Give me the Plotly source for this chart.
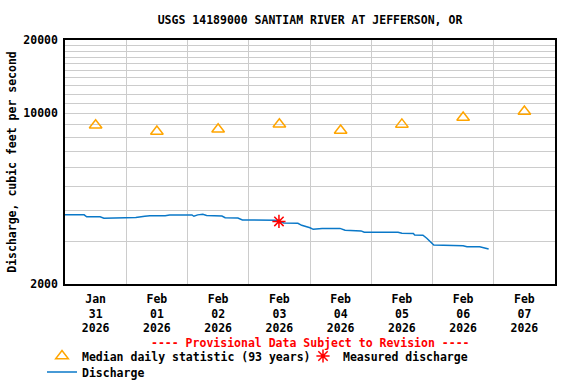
import plotly.graph_objects as go

# ---- data ----
median_dates = ['2026-01-31 12:00', '2026-02-01 12:00', '2026-02-02 12:00', '2026-02-03 12:00',
                '2026-02-04 12:00', '2026-02-05 12:00', '2026-02-06 12:00', '2026-02-07 12:00']
median_values = [8940, 8430, 8620, 9030, 8510, 9020, 9620, 10190]

measured_dates = ['2026-02-03 11:50']
measured_values = [3610]

discharge_times = [
    '2026-01-31 00:00', '2026-01-31 07:30', '2026-01-31 08:30', '2026-01-31 13:45', '2026-01-31 15:15',
    '2026-02-01 02:15', '2026-02-01 03:45', '2026-02-01 07:15', '2026-02-01 09:15', '2026-02-01 15:15',
    '2026-02-01 17:00', '2026-02-02 01:45', '2026-02-02 02:30', '2026-02-02 04:00', '2026-02-02 06:00',
    '2026-02-02 07:30', '2026-02-02 13:30', '2026-02-02 14:45', '2026-02-02 19:45', '2026-02-02 21:30',
    '2026-02-03 04:30', '2026-02-03 10:15', '2026-02-03 11:45', '2026-02-03 13:45', '2026-02-03 19:15',
    '2026-02-03 20:45', '2026-02-04 00:00', '2026-02-04 01:15', '2026-02-04 04:45', '2026-02-04 11:45',
    '2026-02-04 13:45', '2026-02-04 20:00', '2026-02-04 21:15', '2026-02-05 10:30', '2026-02-05 12:00',
    '2026-02-05 16:30', '2026-02-05 17:00', '2026-02-05 20:15', '2026-02-05 21:45', '2026-02-05 23:30',
    '2026-02-06 00:30', '2026-02-06 12:00', '2026-02-06 13:30', '2026-02-06 18:30', '2026-02-06 20:15',
    '2026-02-06 22:00']
discharge_values = [
    3840, 3840, 3770, 3770, 3720,
    3720, 3745, 3790, 3810, 3810,
    3836, 3836, 3790, 3840, 3860,
    3820, 3800, 3740, 3730, 3660,
    3650, 3650, 3615, 3560, 3545,
    3480, 3400, 3350, 3380, 3380,
    3320, 3300, 3258, 3258, 3230,
    3220, 3176, 3170, 3080, 2960,
    2890, 2870, 2845, 2840, 2800,
    2780]

y_tick_values = [2000, 3000, 4000, 5000, 6000, 7000, 8000, 9000, 10000,
                 11000, 12000, 13000, 14000, 15000, 16000, 17000, 18000, 19000, 20000]
y_tick_labels = ['2000', '', '', '', '', '', '', '', '10000',
                 '', '', '', '', '', '', '', '', '', '20000']

title_text = 'USGS 14189000 SANTIAM RIVER AT JEFFERSON, OR'
y_title = 'Discharge, cubic feet per second'
provisional = '---- Provisional Data Subject to Revision ----'

FONT = 'DejaVu Sans Mono'
FS = 11.5
PLOT_TOP, PLOT_BOTTOM, PLOT_H = 40, 284, 244


def bfont(color='black'):
    return dict(family=FONT, size=FS, color=color, weight='bold')


fig = go.Figure()
fig.add_trace(go.Scatter(
    x=discharge_times, y=discharge_values, mode='lines', name='Discharge',
    line=dict(color='#0a78c8', width=1.5), legend='legend2'))
fig.add_trace(go.Scatter(
    x=median_dates, y=median_values, mode='markers', name='Median daily statistic (93 years)',
    marker=dict(symbol='triangle-up-open', size=11, color='#ffa500', line=dict(width=1.5, color='#ffa500')),
    legend='legend', legendrank=1))
fig.add_trace(go.Scatter(
    x=measured_dates, y=measured_values, mode='markers', name='Measured discharge',
    marker=dict(symbol='asterisk-open', size=11, color='#ff0000', line=dict(width=1.5, color='#ff0000')),
    legend='legend', legendrank=2))

legend_x = (42 - 65) / 490
fig.update_layout(
    width=576, height=384,
    margin=dict(l=65, r=21, t=40, b=100, autoexpand=False),
    paper_bgcolor='white', plot_bgcolor='white',
    font=bfont(),
    title=dict(text=title_text, x=0.5, xref='paper', xanchor='center', y=1 - 20 / 384,
               yanchor='middle', font=bfont()),
    showlegend=True,
    legend=dict(orientation='h', x=legend_x, xanchor='left',
                y=(PLOT_BOTTOM - 341.5) / PLOT_H, yanchor='top',
                entrywidth=216, entrywidthmode='pixels',
                font=bfont(), bgcolor='rgba(0,0,0,0)'),
    legend2=dict(orientation='h', x=legend_x, xanchor='left',
                 y=(PLOT_BOTTOM - 357.5) / PLOT_H, yanchor='top',
                 font=bfont(), bgcolor='rgba(0,0,0,0)'),
    annotations=[dict(text=provisional, xref='paper', yref='paper', x=0.5,
                      y=(PLOT_BOTTOM - 343) / PLOT_H,
                      xanchor='center', yanchor='middle', showarrow=False,
                      font=bfont('#ff0000'))],
)

fig.update_xaxes(
    type='date', range=['2026-01-31', '2026-02-08'],
    tick0='2026-01-31', dtick=86400000, ticklabelmode='period',
    tickformat='%b<br>%d<br>%Y', ticks='', ticklabelstandoff=3,
    showgrid=True, gridcolor='#cccccc', gridwidth=1,
    showline=True, linecolor='black', linewidth=1.5, mirror=True,
    zeroline=False, automargin=False,
    tickfont=bfont())

fig.update_yaxes(
    type='log', range=[3.30103, 4.30103],
    tickmode='array', tickvals=y_tick_values, ticktext=y_tick_labels, ticks='',
    ticklabelstandoff=3,
    showgrid=True, gridcolor='#cccccc', gridwidth=1,
    showline=True, linecolor='black', linewidth=1.5, mirror=True,
    zeroline=False, automargin=False,
    title=dict(text=y_title, standoff=4, font=bfont()),
    tickfont=bfont())

fig.write_html('out.html', config={'displayModeBar': False},
               post_script="document.body.style.margin='0';")
